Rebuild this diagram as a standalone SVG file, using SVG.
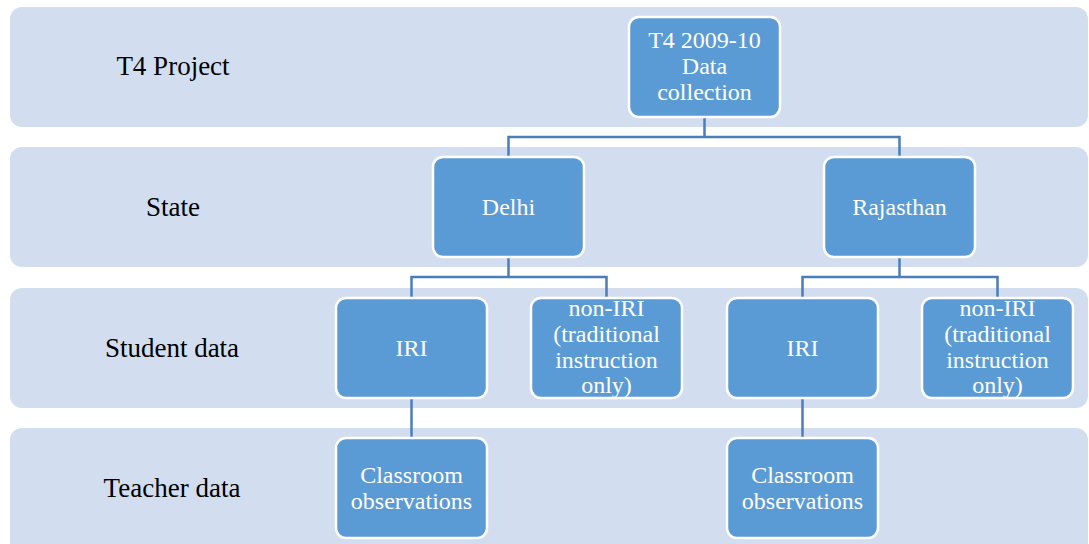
<svg xmlns="http://www.w3.org/2000/svg" width="1089" height="544" viewBox="0 0 1089 544">
<style>
.band{fill:#d2ddef;}
text{font-family:'Liberation Serif','Times New Roman',serif;}
.lbl{font-size:27px;fill:#000;text-anchor:middle;}
.node rect{fill:#5b9bd5;stroke:#fff;stroke-width:2.5;}
.node text{font-size:24px;fill:#fff;text-anchor:middle;}
.conn{fill:none;stroke:#4a7ebb;stroke-width:2.5;}
</style>
<rect width="1089" height="544" fill="#fff"/>
<g id="bands">
<rect class="band" x="10" y="7" width="1078" height="120" rx="12"/>
<rect class="band" x="10" y="147" width="1078" height="120" rx="12"/>
<rect class="band" x="10" y="288" width="1078" height="120" rx="12"/>
<rect class="band" x="10" y="428" width="1078" height="130" rx="12"/>
<text class="lbl" x="173" y="75">T4 Project</text>
<text class="lbl" x="173" y="216">State</text>
<text class="lbl" x="172" y="357">Student data</text>
<text class="lbl" x="172" y="497">Teacher data</text>
</g>
<g id="connectors">
<path class="conn" d="M704.5 117 V137 M508.5 157 V137 H899.5 V157"/>
<path class="conn" d="M508.5 257 V277 M411.5 298 V277 H606.5 V298"/>
<path class="conn" d="M899.5 257 V277 M802.5 298 V277 H997.5 V298"/>
<path class="conn" d="M411.5 398 V438"/>
<path class="conn" d="M802.5 398 V438"/>
</g>
<g id="n-top" class="node">
<rect x="629" y="17" width="151" height="100" rx="10"/>
<text x="704.5" y="48">T4 2009-10</text>
<text x="704.5" y="74">Data</text>
<text x="704.5" y="100">collection</text>
</g>
<g id="n-delhi" class="node">
<rect x="433" y="157" width="151" height="100" rx="10"/>
<text x="508.5" y="215">Delhi</text>
</g>
<g id="n-rajasthan" class="node">
<rect x="824" y="157" width="151" height="100" rx="10"/>
<text x="899.5" y="215">Rajasthan</text>
</g>
<g id="n-delhi-iri" class="node">
<rect x="336" y="298" width="151" height="100" rx="10"/>
<text x="411.5" y="356">IRI</text>
</g>
<g id="n-delhi-noniri" class="node">
<rect x="531" y="298" width="151" height="100" rx="10"/>
<text x="606.5" y="316">non-IRI</text>
<text x="606.5" y="342">(traditional</text>
<text x="606.5" y="368">instruction</text>
<text x="606.5" y="393">only)</text>
</g>
<g id="n-raj-iri" class="node">
<rect x="727" y="298" width="151" height="100" rx="10"/>
<text x="802.5" y="356">IRI</text>
</g>
<g id="n-raj-noniri" class="node">
<rect x="922" y="298" width="151" height="100" rx="10"/>
<text x="997.5" y="316">non-IRI</text>
<text x="997.5" y="342">(traditional</text>
<text x="997.5" y="368">instruction</text>
<text x="997.5" y="393">only)</text>
</g>
<g id="n-delhi-obs" class="node">
<rect x="336" y="438" width="151" height="100" rx="10"/>
<text x="411.5" y="483">Classroom</text>
<text x="411.5" y="509">observations</text>
</g>
<g id="n-raj-obs" class="node">
<rect x="727" y="438" width="151" height="100" rx="10"/>
<text x="802.5" y="483">Classroom</text>
<text x="802.5" y="509">observations</text>
</g>
</svg>
